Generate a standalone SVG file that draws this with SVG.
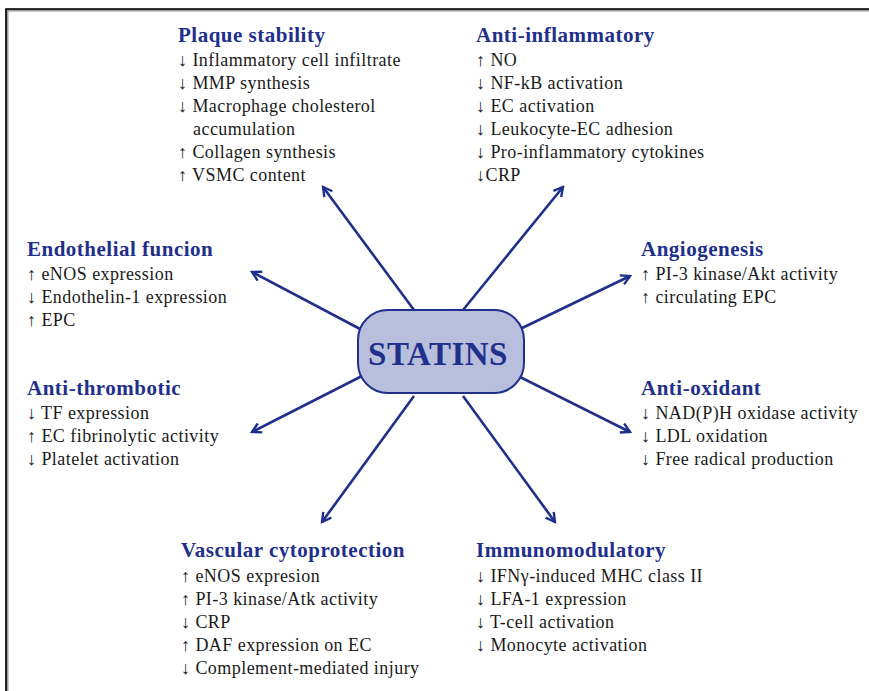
<svg xmlns="http://www.w3.org/2000/svg" width="869" height="691" viewBox="0 0 869 691">
<defs>
<style>
.t{font-family:"Liberation Serif","Times New Roman",serif;font-weight:bold;font-size:21px;letter-spacing:0.5px;fill:#1f2f8c}
.b{font-family:"Liberation Serif","Times New Roman",serif;font-size:18px;letter-spacing:0.45px;fill:#1a1a1a}
.c{stroke:#1f2f8c;stroke-width:2.6;fill:none}
</style>
<marker id="ah" viewBox="0 0 12 12" refX="10" refY="6" markerWidth="12" markerHeight="12" markerUnits="userSpaceOnUse" orient="auto">
<path d="M1,1 L10,6 L1,11" fill="none" stroke="#1f2f8c" stroke-width="2.4" stroke-linejoin="miter"/>
</marker>
</defs>
<rect width="869" height="691" fill="#fff"/>
<path d="M7,700 V10 H869" fill="none" stroke="#9a9a9a" stroke-width="3"/>
<path d="M6,700 V9 H869" fill="none" stroke="#000" stroke-width="1.6"/>
<g id="connectors">
<line class="c" x1="414" y1="310" x2="323" y2="187" marker-end="url(#ah)"/>
<line class="c" x1="463" y1="310" x2="563" y2="187" marker-end="url(#ah)"/>
<line class="c" x1="362" y1="330" x2="252" y2="272" marker-end="url(#ah)"/>
<line class="c" x1="518" y1="330" x2="630" y2="276" marker-end="url(#ah)"/>
<line class="c" x1="362" y1="376" x2="252" y2="432" marker-end="url(#ah)"/>
<line class="c" x1="518" y1="376" x2="630" y2="432" marker-end="url(#ah)"/>
<line class="c" x1="414" y1="396" x2="322" y2="522" marker-end="url(#ah)"/>
<line class="c" x1="463" y1="396" x2="555" y2="522" marker-end="url(#ah)"/>
</g>
<g id="statins">
<rect x="358" y="310" width="166" height="83" rx="30" ry="30" fill="#b8bfdd" stroke="#1f2f8c" stroke-width="2"/>
<text x="438" y="365" text-anchor="middle" font-family="'Liberation Serif','Times New Roman',serif" font-weight="bold" font-size="33" letter-spacing="0.5" fill="#1f2f8c">STATINS</text>
</g>
<g id="plaque">
<text class="t" x="178" y="42">Plaque stability</text>
<text class="b" x="178" y="66">↓ Inflammatory cell infiltrate</text>
<text class="b" x="178" y="89">↓ MMP synthesis</text>
<text class="b" x="178" y="112">↓ Macrophage cholesterol</text>
<text class="b" x="193" y="135">accumulation</text>
<text class="b" x="178" y="158">↑ Collagen synthesis</text>
<text class="b" x="178" y="181">↑ VSMC content</text>
</g>
<g id="antiinflammatory">
<text class="t" x="476" y="42">Anti-inflammatory</text>
<text class="b" x="476" y="66">↑ NO</text>
<text class="b" x="476" y="89">↓ NF-kB activation</text>
<text class="b" x="476" y="112">↓ EC activation</text>
<text class="b" x="476" y="135">↓ Leukocyte-EC adhesion</text>
<text class="b" x="476" y="158">↓ Pro-inflammatory cytokines</text>
<text class="b" x="476" y="181">↓CRP</text>
</g>
<g id="endothelial">
<text class="t" x="27" y="256">Endothelial funcion</text>
<text class="b" x="27" y="280">↑ eNOS expression</text>
<text class="b" x="27" y="303">↓ Endothelin-1 expression</text>
<text class="b" x="27" y="326">↑ EPC</text>
</g>
<g id="angiogenesis">
<text class="t" x="641" y="256">Angiogenesis</text>
<text class="b" x="641" y="280">↑ PI-3 kinase/Akt activity</text>
<text class="b" x="641" y="303">↑ circulating EPC</text>
</g>
<g id="antithrombotic">
<text class="t" x="27" y="395">Anti-thrombotic</text>
<text class="b" x="27" y="419">↓ TF expression</text>
<text class="b" x="27" y="442">↑ EC fibrinolytic activity</text>
<text class="b" x="27" y="465">↓ Platelet activation</text>
</g>
<g id="antioxidant">
<text class="t" x="641" y="395">Anti-oxidant</text>
<text class="b" x="641" y="419">↓ NAD(P)H  oxidase activity</text>
<text class="b" x="641" y="442">↓ LDL oxidation</text>
<text class="b" x="641" y="465">↓ Free radical production</text>
</g>
<g id="vascular">
<text class="t" x="181" y="557">Vascular cytoprotection</text>
<text class="b" x="181" y="582">↑ eNOS expresion</text>
<text class="b" x="181" y="605">↑ PI-3 kinase/Atk activity</text>
<text class="b" x="181" y="628">↓ CRP</text>
<text class="b" x="181" y="651">↑ DAF expression on EC</text>
<text class="b" x="181" y="674">↓ Complement-mediated injury</text>
</g>
<g id="immuno">
<text class="t" x="476" y="557">Immunomodulatory</text>
<text class="b" x="476" y="582">↓ IFNγ-induced MHC class II</text>
<text class="b" x="476" y="605">↓ LFA-1 expression</text>
<text class="b" x="476" y="628">↓ T-cell activation</text>
<text class="b" x="476" y="651">↓ Monocyte activation</text>
</g>
</svg>
